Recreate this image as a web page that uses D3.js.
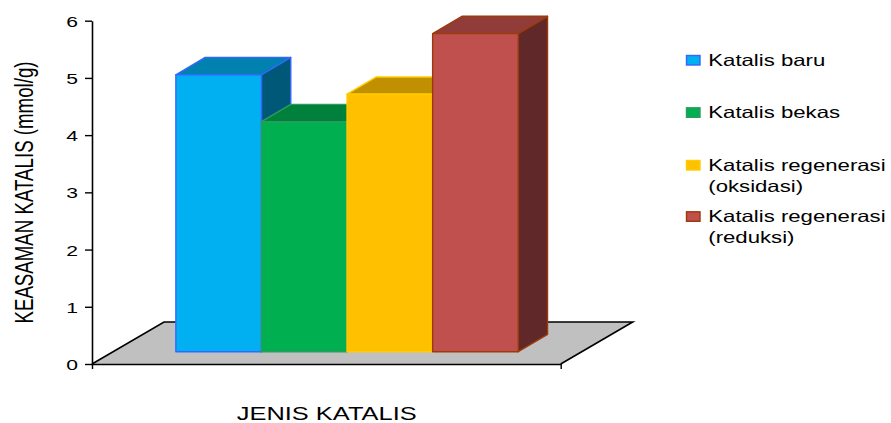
<!DOCTYPE html>
<html>
<head>
<meta charset="utf-8">
<script src="https://cdn.jsdelivr.net/npm/d3@7"></script>
<style>
  html, body { margin: 0; padding: 0; background: #fff; }
  svg { display: block; font-family: "Liberation Sans", Arial, sans-serif; }
</style>
</head>
<body>
<svg id="chart" width="891" height="423"></svg>
<script>
// ---- data ----
const categories = ["Katalis baru", "Katalis bekas", "Katalis regenerasi (oksidasi)", "Katalis regenerasi (reduksi)"];
const values = [4.84, 4.02, 4.50, 5.56];
const legendLines = [["Katalis baru"], ["Katalis bekas"], ["Katalis regenerasi", "(oksidasi)"], ["Katalis regenerasi", "(reduksi)"]];
const yTicks = [0, 1, 2, 3, 4, 5, 6];
const yTitle = "KEASAMAN KATALIS (mmol/g)";
const xTitle = "JENIS KATALIS";

// ---- styles ----
const frontColors = ["#00B0F0", "#00B050", "#FFC000", "#C0504D"];
const topColors   = ["#0081B0", "#00813B", "#C09000", "#923C3A"];
const sideColors  = ["#005878", "#005A2A", "#8A6800", "#602828"];
const edgeColors  = ["#3366FF", "#2E9A60", "#FFCC00", "#9C3A0A"];

const svg = d3.select("#chart");
const sx = 1.36; // horizontal stretch of text

const x0 = 92, x1 = 560.7, yBase = 364;
const y = d3.scaleLinear().domain([0, 6]).range([yBase, 20.7]);
const xFront = d3.scaleLinear().domain([0, 1]).range([x0, x1]);
const band = d3.scaleBand().domain(categories).range([x0, x1]).paddingInner(0).paddingOuter(0.738);

const floorD = { dx: 72, dy: -42 };
const barOff = { dx: 20.7, dy: -12.3 };
const barD = { dx: 29.3, dy: -17.3 };

// floor
const floorPts = [[x0, yBase], [x1, yBase], [x1 + floorD.dx, yBase + floorD.dy], [x0 + floorD.dx, yBase + floorD.dy]];
svg.append("polygon")
  .attr("points", floorPts.map(p => p.join(",")).join(" "))
  .attr("fill", "#C0C0C0").attr("stroke", "none");
svg.append("polyline")
  .attr("points", [floorPts[0], floorPts[3], floorPts[2], floorPts[1]].map(p => p.join(",")).join(" "))
  .attr("fill", "none").attr("stroke", "#000").attr("stroke-width", 1.6).attr("stroke-linejoin", "miter");

// bars
categories.forEach((c, i) => {
  const xl = band(c) + barOff.dx;
  const xr = xl + band.bandwidth();
  const yt = y(values[i]) + barOff.dy;
  const yb = y(0) + barOff.dy;
  const g = svg.append("g");
  const poly = (pts, fill) => g.append("polygon")
    .attr("points", pts.map(p => p.join(",")).join(" "))
    .attr("fill", fill).attr("stroke", edgeColors[i]).attr("stroke-width", 1.4).attr("stroke-linejoin", "round");
  // side
  poly([[xr, yt], [xr + barD.dx, yt + barD.dy], [xr + barD.dx, yb + barD.dy], [xr, yb]], sideColors[i]);
  // top
  poly([[xl, yt], [xl + barD.dx, yt + barD.dy], [xr + barD.dx, yt + barD.dy], [xr, yt]], topColors[i]);
  // front
  poly([[xl, yt], [xr, yt], [xr, yb], [xl, yb]], frontColors[i]);
});

// y axis
const yAxis = svg.append("g").attr("transform", `translate(${x0},0)`)
  .call(d3.axisLeft(y).tickValues(yTicks).tickFormat(d3.format("d")).tickSize(7).tickSizeOuter(0).tickPadding(0));
yAxis.select(".domain").attr("stroke", "#000").attr("stroke-width", 1.6);
yAxis.selectAll(".tick line").attr("stroke", "#000").attr("stroke-width", 1.4);
yAxis.selectAll(".tick text")
  .attr("x", -14 / sx).attr("dy", "0.36em")
  .attr("transform", `scale(${sx},1)`)
  .style("font-family", "'Liberation Sans', Arial, sans-serif")
  .style("font-size", "15.5px").attr("fill", "#000");

// x axis (front edge of floor)
const xAxis = svg.append("g").attr("transform", `translate(0,${yBase})`)
  .call(d3.axisBottom(xFront).tickValues([0, 1]).tickFormat("").tickSize(5).tickSizeOuter(0));
xAxis.select(".domain").attr("stroke", "#000").attr("stroke-width", 1.6);
xAxis.selectAll(".tick line").attr("stroke", "#000").attr("stroke-width", 1.4);

// titles
svg.append("text")
  .attr("transform", `translate(33,192.5) scale(${sx},1) rotate(-90)`)
  .attr("text-anchor", "middle")
  .style("font-size", "18.7px").attr("fill", "#000")
  .text(yTitle);
svg.append("text")
  .attr("transform", `translate(326.7,420) scale(${sx},1)`)
  .attr("text-anchor", "middle")
  .style("font-size", "18.7px").attr("fill", "#000")
  .text(xTitle);

// legend
const legendBase = [66, 118.3, 171, 222.3];
const lg = svg.append("g");
legendLines.forEach((lines, i) => {
  lg.append("rect")
    .attr("x", 686.5).attr("y", legendBase[i] - 10.5)
    .attr("width", 13.5).attr("height", 9.5)
    .attr("fill", frontColors[i]).attr("stroke", edgeColors[i]).attr("stroke-width", 1.4);
  lines.forEach((t, j) => {
    lg.append("text")
      .attr("transform", `translate(708.3,${legendBase[i] + j * 20.6}) scale(${sx},1)`)
      .style("font-size", "16.3px").attr("fill", "#000")
      .text(t);
  });
});
</script>
</body>
</html>
